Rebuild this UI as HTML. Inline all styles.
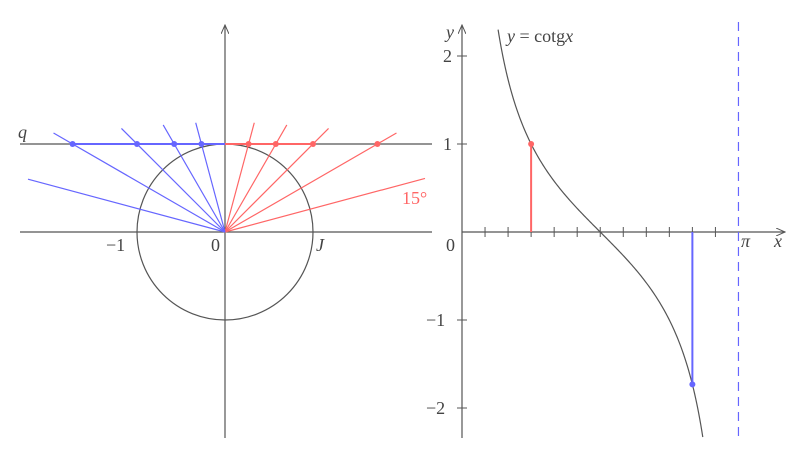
<!DOCTYPE html>
<html><head><meta charset="utf-8"><style>
html,body{margin:0;padding:0;background:#fff}
svg{display:block}
text{font-family:"Liberation Serif",serif;fill:#444;font-size:18px}
</style></head><body>
<svg width="805" height="451" viewBox="0 0 805 451">
<defs><marker id="ar" markerWidth="10" markerHeight="8" refX="9" refY="4" orient="auto" markerUnits="userSpaceOnUse"><path d="M0,0 L9,4 L0,8" fill="none" stroke="#555" stroke-width="1"/></marker></defs>
<g id="left"></g>
<g id="right"></g>
</svg>
<script>
// data
const redAngles=[15,30,45,60,75];
const blueAngles=[105,120,135,150,165];
const tickCount=12;
const yTicks=[-2,-1,1,2];
const redX=Math.PI/4;
const blueX=5*Math.PI/6;

const NS='http://www.w3.org/2000/svg';
function mk(p,tag,a){const e=document.createElementNS(NS,tag);for(const k in a)e.setAttribute(k,a[k]);p.appendChild(e);return e;}
const L=document.getElementById('left'),R=document.getElementById('right');
const U=88, ox=225, oy=232;
const sx=x=>ox+x*U, sy=y=>oy-y*U;
const RED='#f66', BLUE='#66f', GR='#555';
let e;
e=mk(L,'line',{x1:20,y1:232,x2:432,y2:232,stroke:GR,'stroke-width':1.2});

e=mk(L,'line',{x1:225,y1:438,x2:225,y2:25,stroke:GR,'stroke-width':1.2,'marker-end':'url(#ar)'});

e=mk(L,'line',{x1:20,y1:sy(1),x2:432,y2:sy(1),stroke:GR,'stroke-width':1.2});

e=mk(L,'circle',{cx:ox,cy:oy,r:U,fill:'none',stroke:GR,'stroke-width':1.2});

function rays(angles,col){
  let minX=0,maxX=0;
  angles.forEach(a=>{
    const r=a*Math.PI/180,c=Math.cos(r),s=Math.sin(r);
    let ex,ey,onQ=false;
    const px=c/s;
    if(Math.abs(px)*U<ox-20 && Math.abs(px)*U<432-ox){
      ex=sx(px)+22*c; ey=sy(1)-22*s; onQ=true;
      if(Math.abs(px)<=1.01) maxX=Math.max(maxX,px);
      minX=Math.min(minX,px);
    } else {
      const tx=c>0?425:28; ex=tx; ey=oy-(tx-ox)*s/c;
    }
    e=mk(L,'line',{x1:ox,y1:oy,x2:ex,y2:ey,stroke:col,'stroke-width':1.2});
    
    if(onQ){
      e=mk(L,'circle',{cx:sx(px),cy:sy(1),r:3,fill:col});
      
    }
  });
  return [minX,maxX];
}
const rb=rays(redAngles,RED), bb=rays(blueAngles,BLUE);
e=mk(L,'line',{x1:sx(0),y1:sy(1),x2:sx(rb[1]),y2:sy(1),stroke:RED,'stroke-width':2});

e=mk(L,'line',{x1:sx(bb[0]),y1:sy(1),x2:sx(0),y2:sy(1),stroke:BLUE,'stroke-width':2});

function txt(p,x,y,s,name,extra){e=mk(p,'text',Object.assign({x:x,y:y},extra||{}));e.textContent=s;return e;}
txt(L,18,138,'q','label-q',{'font-style':'italic'});
txt(L,106,251,'−1','label-minus-one');
txt(L,211,251,'0','label-zero');
txt(L,316,251,'J','label-j',{'font-style':'italic'});
txt(L,402,204,'15°','label-15-degrees',{style:'fill:#f66'});

// right
const rx=462, ry=232;
const X=x=>rx+x*U, Y=y=>ry-y*U;
e=mk(R,'line',{x1:462,y1:ry,x2:785,y2:ry,stroke:GR,'stroke-width':1.2,'marker-end':'url(#ar)'});

e=mk(R,'line',{x1:rx,y1:438,x2:rx,y2:25,stroke:GR,'stroke-width':1.2,'marker-end':'url(#ar)'});

for(let i=1;i<tickCount;i++){e=mk(R,'line',{x1:X(i*Math.PI/tickCount),y1:ry-5,x2:X(i*Math.PI/tickCount),y2:ry+5,stroke:GR,'stroke-width':1});
}
yTicks.forEach(t=>{e=mk(R,'line',{x1:rx-5,y1:Y(t),x2:rx+5,y2:Y(t),stroke:GR,'stroke-width':1});

txt(R,t<0?426:443,Y(t)+6,t<0?'−'+(-t):String(t),'y-tick-label');});
txt(R,446,251,'0','label-origin');
txt(R,741,247,'π','label-pi',{'font-style':'italic'});
txt(R,774,247,'x','label-x',{'font-style':'italic'});
txt(R,446,38,'y','label-y',{'font-style':'italic'});
txt(R,507,42,'y = cotg','curve-label').innerHTML='<tspan font-style="italic">y</tspan> = cotg<tspan font-style="italic">x</tspan>';
e=mk(R,'line',{x1:X(Math.PI),y1:22,x2:X(Math.PI),y2:440,stroke:BLUE,'stroke-width':1.2,'stroke-dasharray':'9,6'});

let d='';const x0=Math.atan(1/2.3),x1=Math.PI-Math.atan(1/2.33);
for(let i=0;i<=200;i++){const x=x0+(x1-x0)*i/200;d+=(i?'L':'M')+X(x).toFixed(2)+','+Y(1/Math.tan(x)).toFixed(2);}
e=mk(R,'path',{d:d,fill:'none',stroke:GR,'stroke-width':1.2});

e=mk(R,'line',{x1:X(redX),y1:ry,x2:X(redX),y2:Y(1/Math.tan(redX)),stroke:RED,'stroke-width':2});

e=mk(R,'circle',{cx:X(redX),cy:Y(1/Math.tan(redX)),r:3,fill:RED});

e=mk(R,'line',{x1:X(blueX),y1:ry,x2:X(blueX),y2:Y(1/Math.tan(blueX)),stroke:BLUE,'stroke-width':2});

e=mk(R,'circle',{cx:X(blueX),cy:Y(1/Math.tan(blueX)),r:3,fill:BLUE});

</script>
</body></html>
